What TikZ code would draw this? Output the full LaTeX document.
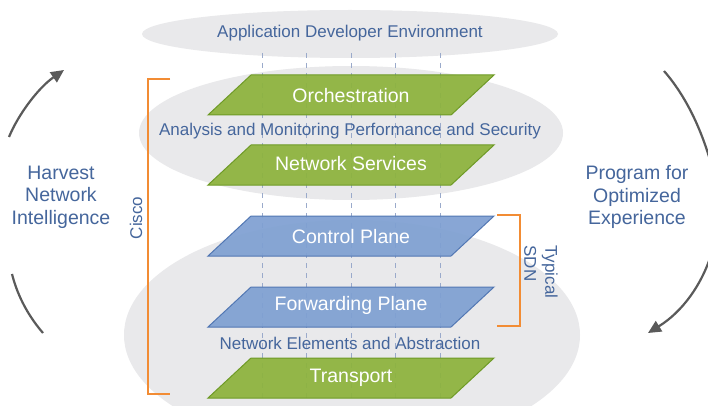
\documentclass[tikz,border=0pt]{standalone}
\usepackage{fontspec}
\setmainfont{Liberation Sans}
\usetikzlibrary{arrows.meta}
\definecolor{lgreen}{HTML}{8DB33C}
\definecolor{dgreen}{HTML}{6E9A26}
\definecolor{lblue}{HTML}{7FA0D2}
\definecolor{dblue}{HTML}{5277B3}
\definecolor{txtblue}{HTML}{45669C}
\definecolor{orangeC}{HTML}{F28C34}
\definecolor{arcgray}{HTML}{5A5A5A}
\definecolor{dashc}{HTML}{9AAACB}
\definecolor{ellgray}{HTML}{E9E9EB}
\tikzset{
  cloud/.style={fill=ellgray},
  layerG/.style={fill=lgreen, draw=dgreen, line width=1pt, fill opacity=0.93},
  layerB/.style={fill=lblue, draw=dblue, line width=1pt, fill opacity=0.93},
  lbl/.style={text=white, font=\fontsize{19.5}{22.5}\selectfont, inner sep=0pt},
  captxt/.style={text=txtblue, font=\fontsize{17}{21}\selectfont, inner sep=0pt},
  side/.style={text=txtblue, font=\fontsize{19.5}{22.5}\selectfont, align=center, inner sep=0pt},
  bracket/.style={draw=orangeC, line width=2.4pt},
  cyc/.style={draw=arcgray, line width=2.2pt},
  cycarrow/.style={cyc, -{Triangle[length=13pt,width=12pt]}},
  vdash/.style={draw=dashc, dash pattern=on 5pt off 5pt, line width=0.9pt}
}
\begin{document}
\begin{tikzpicture}[x=1pt,y=-1pt]
\clip (0,0) rectangle (708,406);
\fill[white] (0,0) rectangle (708,406);
% background clouds
\fill[cloud] (352,335) ellipse [x radius=228, y radius=115];
\fill[cloud] (351,133) ellipse [x radius=212, y radius=67];
\fill[cloud] (350,34) ellipse [x radius=208, y radius=24];
% dashed verticals
\foreach \xx in {262,306.5,351,395.5,440}
  \draw[vdash] (\xx,53) -- (\xx,398);
% layers
\foreach \yy/\sty in {75/layerG,145/layerG,216/layerB,287/layerB,358/layerG}
  \draw[\sty] (251,\yy) -- (494,\yy) -- (451,\yy+40) -- (208,\yy+40) -- cycle;
\node[lbl] (orch) at (351,96) {Orchestration};
\node[lbl] (nsvc) at (351,164) {Network Services};
\node[lbl] (ctrl) at (351,237) {Control Plane};
\node[lbl] (fwd) at (351,305) {Forwarding Plane};
\node[lbl] (trans) at (351,378) {Transport};
% captions
\node[captxt] (ade) at (350,33) {Application Developer Environment};
\node[captxt] (amp) at (350,131) {Analysis and Monitoring Performance and Security};
\node[captxt] (nea) at (350,343) {Network Elements and Abstraction};
% brackets
\coordinate (c1) at (170,79);
\coordinate (c2) at (148,79);
\coordinate (c3) at (148,394);
\coordinate (c4) at (170,394);
\draw[bracket] (c1) -- (c2) -- (c3) -- (c4);
\node[captxt, rotate=90] (cisco) at (136,218) {Cisco};
\coordinate (s1) at (497,215);
\coordinate (s2) at (520,215);
\coordinate (s3) at (520,326);
\coordinate (s4) at (497,326);
\draw[bracket] (s1) -- (s2) -- (s3) -- (s4);
\node[captxt, rotate=-90, align=left] (sdn) at (541,272) {Typical\\SDN};
% side texts
\node[side] (harvest) at (61,197) {Harvest\\Network\\Intelligence};
\node[side] (program) at (637,197) {Program for\\Optimized\\Experience};
% cycle arcs
\coordinate (la) at (9,137);
\coordinate (lb) at (64,70);
\draw[cycarrow] (la) .. controls (18,115) and (38,88) .. (lb);
\coordinate (lc) at (12,274);
\coordinate (ld) at (43,333);
\draw[cyc] (lc) .. controls (18,298) and (30,318) .. (ld);
\coordinate (ra) at (664,71);
\coordinate (rb) at (714,175);
\draw[cyc] (ra) .. controls (685,95) and (703,130) .. (rb);
\coordinate (rc) at (712,252);
\coordinate (rd) at (648,333);
\draw[cycarrow] (rc) .. controls (702,285) and (682,312) .. (rd);
\end{tikzpicture}
\end{document}
